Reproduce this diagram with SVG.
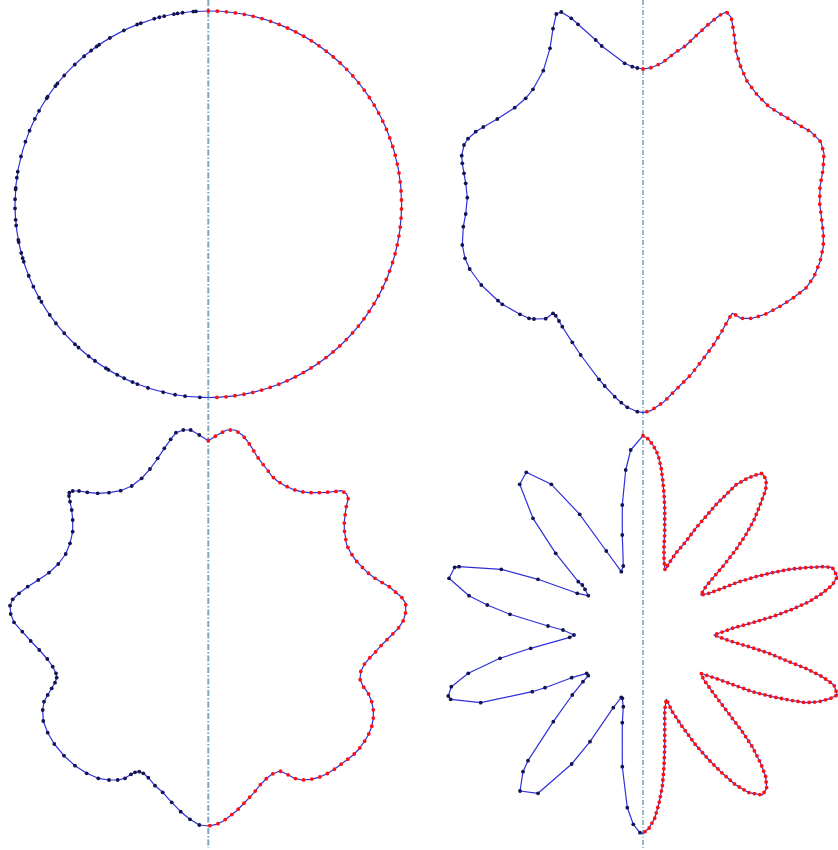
<svg xmlns="http://www.w3.org/2000/svg" xmlns:xlink="http://www.w3.org/1999/xlink" width="838" height="850" viewBox="0 0 838 850">
<style>
.outline{fill:none;stroke:#2f2fdc;stroke-width:1.2;stroke-linejoin:round}
.reddots{fill:none;stroke:#ff1010;stroke-width:3.8;stroke-linecap:round}
.navypts{fill:none;stroke:none;marker-start:url(#nd);marker-mid:url(#nd);marker-end:url(#nd)}
.axisL{stroke:#80a8bc;stroke-width:2;stroke-dasharray:6 2 1.5 2;fill:none}
.axisR{stroke:#2d7196;stroke-width:1;stroke-dasharray:5 2 1 2;fill:none}
</style>
<defs>
<marker id="nd" markerUnits="userSpaceOnUse" viewBox="0 0 5 5" refX="2.5" refY="2.5" markerWidth="5" markerHeight="5"><circle cx="2.5" cy="2.5" r="1.9" fill="#121450"/></marker>
<circle id="cd" cx="208.3" cy="11" r="1.9" fill="#121450"/>
</defs>
<rect width="838" height="850" fill="#ffffff"/>
<g id="axes">
<line class="axisL" x1="208.3" y1="0" x2="208.3" y2="848"/>
<line class="axisR" x1="643" y1="0" x2="643" y2="848"/>
</g>
<g id="circle-panel">
<circle class="outline" cx="208.3" cy="204.3" r="193.3"/>
<path class="reddots" stroke-dasharray="0 9.064" d="M208.3,11 A193.3,193.3 0 0 1 208.3,397.6"/>
<g>
<use xlink:href="#cd" transform="rotate(-3.66 208.3 204.3)"/>
<use xlink:href="#cd" transform="rotate(-4.45 208.3 204.3)"/>
<use xlink:href="#cd" transform="rotate(-7.65 208.3 204.3)"/>
<use xlink:href="#cd" transform="rotate(-9.14 208.3 204.3)"/>
<use xlink:href="#cd" transform="rotate(-10.24 208.3 204.3)"/>
<use xlink:href="#cd" transform="rotate(-13.17 208.3 204.3)"/>
<use xlink:href="#cd" transform="rotate(-14.68 208.3 204.3)"/>
<use xlink:href="#cd" transform="rotate(-16.24 208.3 204.3)"/>
<use xlink:href="#cd" transform="rotate(-20.44 208.3 204.3)"/>
<use xlink:href="#cd" transform="rotate(-21.6 208.3 204.3)"/>
<use xlink:href="#cd" transform="rotate(-25.9 208.3 204.3)"/>
<use xlink:href="#cd" transform="rotate(-30.6 208.3 204.3)"/>
<use xlink:href="#cd" transform="rotate(-34.4 208.3 204.3)"/>
<use xlink:href="#cd" transform="rotate(-35.3 208.3 204.3)"/>
<use xlink:href="#cd" transform="rotate(-37.3 208.3 204.3)"/>
<use xlink:href="#cd" transform="rotate(-40 208.3 204.3)"/>
<use xlink:href="#cd" transform="rotate(-43.7 208.3 204.3)"/>
<use xlink:href="#cd" transform="rotate(-48.2 208.3 204.3)"/>
<use xlink:href="#cd" transform="rotate(-51.3 208.3 204.3)"/>
<use xlink:href="#cd" transform="rotate(-52.3 208.3 204.3)"/>
<use xlink:href="#cd" transform="rotate(-56.2 208.3 204.3)"/>
<use xlink:href="#cd" transform="rotate(-56.7 208.3 204.3)"/>
<use xlink:href="#cd" transform="rotate(-61.1 208.3 204.3)"/>
<use xlink:href="#cd" transform="rotate(-63.8 208.3 204.3)"/>
<use xlink:href="#cd" transform="rotate(-67.6 208.3 204.3)"/>
<use xlink:href="#cd" transform="rotate(-71.1 208.3 204.3)"/>
<use xlink:href="#cd" transform="rotate(-75.7 208.3 204.3)"/>
<use xlink:href="#cd" transform="rotate(-80.3 208.3 204.3)"/>
<use xlink:href="#cd" transform="rotate(-82.1 208.3 204.3)"/>
<use xlink:href="#cd" transform="rotate(-85.1 208.3 204.3)"/>
<use xlink:href="#cd" transform="rotate(-85.6 208.3 204.3)"/>
<use xlink:href="#cd" transform="rotate(-88.5 208.3 204.3)"/>
<use xlink:href="#cd" transform="rotate(-91.2 208.3 204.3)"/>
<use xlink:href="#cd" transform="rotate(-94.6 208.3 204.3)"/>
<use xlink:href="#cd" transform="rotate(-96.3 208.3 204.3)"/>
<use xlink:href="#cd" transform="rotate(-100.6 208.3 204.3)"/>
<use xlink:href="#cd" transform="rotate(-101.3 208.3 204.3)"/>
<use xlink:href="#cd" transform="rotate(-104.6 208.3 204.3)"/>
<use xlink:href="#cd" transform="rotate(-106.2 208.3 204.3)"/>
<use xlink:href="#cd" transform="rotate(-107.3 208.3 204.3)"/>
<use xlink:href="#cd" transform="rotate(-111.7 208.3 204.3)"/>
<use xlink:href="#cd" transform="rotate(-115.2 208.3 204.3)"/>
<use xlink:href="#cd" transform="rotate(-118.9 208.3 204.3)"/>
<use xlink:href="#cd" transform="rotate(-120.3 208.3 204.3)"/>
<use xlink:href="#cd" transform="rotate(-124.9 208.3 204.3)"/>
<use xlink:href="#cd" transform="rotate(-128 208.3 204.3)"/>
<use xlink:href="#cd" transform="rotate(-131.8 208.3 204.3)"/>
<use xlink:href="#cd" transform="rotate(-136.4 208.3 204.3)"/>
<use xlink:href="#cd" transform="rotate(-137.8 208.3 204.3)"/>
<use xlink:href="#cd" transform="rotate(-141.8 208.3 204.3)"/>
<use xlink:href="#cd" transform="rotate(-144.1 208.3 204.3)"/>
<use xlink:href="#cd" transform="rotate(-148 208.3 204.3)"/>
<use xlink:href="#cd" transform="rotate(-148.9 208.3 204.3)"/>
<use xlink:href="#cd" transform="rotate(-151.9 208.3 204.3)"/>
<use xlink:href="#cd" transform="rotate(-154.2 208.3 204.3)"/>
<use xlink:href="#cd" transform="rotate(-156.9 208.3 204.3)"/>
<use xlink:href="#cd" transform="rotate(-158.5 208.3 204.3)"/>
<use xlink:href="#cd" transform="rotate(-161.8 208.3 204.3)"/>
<use xlink:href="#cd" transform="rotate(-166.5 208.3 204.3)"/>
<use xlink:href="#cd" transform="rotate(-170.1 208.3 204.3)"/>
<use xlink:href="#cd" transform="rotate(-173.1 208.3 204.3)"/>
<use xlink:href="#cd" transform="rotate(-177.5 208.3 204.3)"/>
</g>
</g>
<g id="leaf-panel">
<path class="outline" d="M643,69 651.3,67.7 662.3,62.7 675,52.7 685.7,45.7 695,36.7 707.3,25.3 719,15.7 726.3,11.7 731.3,17.7 734,33.3 736.3,52.7 740.7,66.7 747.3,81.7 757.3,95 769,106.7 782.3,115 797.3,124 810.7,131.7 820.7,141.7 824,153.3 823,170 820,186.7 819.7,203.3 821.7,220 823.3,233.3 823.3,246.7 820,261.7 814,276.7 805.7,288.3 794,297.3 780.7,306 765.7,314 752.3,318.3 740.7,318.3 735.7,315 732.3,313.3 729.7,317.3 720.7,333.3 712.3,346.7 702.3,360 690.7,375 677.3,388.3 664,401.7 650.7,410.7 643,412.7 637.3,411.7 627.3,407.3 621.3,402.7 614.7,396.7 604.7,386 599,379.3 580.7,355 572.3,342.3 562.3,326.7 559,321 555.7,315.7 553,313.3 545.7,318.7 534,319 529,318.3 520,314.3 502.3,304.3 498,300.7 481.3,285 469.7,269 465,258.3 462.3,245 463.3,226.7 465.7,214 467.3,197.7 465.7,183.3 464,173.3 462.3,163.3 461.7,155.7 464,145 468,138.7 475.7,131.7 483.3,127 497.3,119 514.7,107.7 525.7,98.3 533,89.3 543.3,70.7 550,48.3 553,28.7 556.3,14 561.3,12 571.3,18.3 578,24.3 595.7,40 601.7,46 624.7,63.3 632.3,66.7 637.3,68 Z"/>
<path class="reddots" stroke-dasharray="0 8" d="M643,69 651.3,67.7 662.3,62.7 675,52.7 685.7,45.7 695,36.7 707.3,25.3 719,15.7 726.3,11.7 731.3,17.7 734,33.3 736.3,52.7 740.7,66.7 747.3,81.7 757.3,95 769,106.7 782.3,115 797.3,124 810.7,131.7 820.7,141.7 824,153.3 823,170 820,186.7 819.7,203.3 821.7,220 823.3,233.3 823.3,246.7 820,261.7 814,276.7 805.7,288.3 794,297.3 780.7,306 765.7,314 752.3,318.3 740.7,318.3 735.7,315 732.3,313.3 729.7,317.3 720.7,333.3 712.3,346.7 702.3,360 690.7,375 677.3,388.3 664,401.7 650.7,410.7 643,412.7"/>
<path class="navypts" d="M637.3,68 632.3,66.7 624.7,63.3 601.7,46 595.7,40 578,24.3 571.3,18.3 561.3,12 556.3,14 553,28.7 550,48.3 543.3,70.7 533,89.3 525.7,98.3 514.7,107.7 497.3,119 483.3,127 475.7,131.7 468,138.7 464,145 461.7,155.7 462.3,163.3 464,173.3 465.7,183.3 467.3,197.7 465.7,214 463.3,226.7 462.3,245 465,258.3 469.7,269 481.3,285 498,300.7 502.3,304.3 520,314.3 529,318.3 534,319 545.7,318.7 553,313.3 555.7,315.7 559,321 562.3,326.7 572.3,342.3 580.7,355 599,379.3 604.7,386 614.7,396.7 621.3,402.7 627.3,407.3 637.3,411.7"/>
</g>
<g id="wavy-panel">
<path class="outline" d="M208.3,440.7 217.3,435 226.7,430 235,430 242.3,435 247.3,441 252.3,448.3 256.7,456 261.7,462.7 266.7,469 271.7,476 277.3,481 285,485.7 292.7,489.3 301,491.7 309.3,492.7 317.3,492.7 325.7,492.3 333.3,491.7 341.7,490.7 346.7,494 348.3,499 346,507.7 344.3,521.7 344.3,530 346.7,545 351,553.3 356,560.7 361.7,566.7 367.7,572.7 375,578.3 382.3,582.7 389.3,586.7 395.7,592.3 401.7,597.3 405.7,603.3 405.7,612.3 403.3,620.7 398.3,628.3 392.7,634 386.7,640 381,645.7 375.7,651.7 369.3,658.3 364.3,664.3 360.7,671.7 360,679.3 363.3,686.7 368.3,693.3 371.7,701.7 373.3,710 373.3,718.3 371.7,726.7 368.3,735 364.3,741.7 359,749 353.3,755 346.7,760 340,765 333.3,770 326,774.3 319,777.3 310.7,779.3 302.3,780 294.3,778.3 286.7,774 280,771 272.3,774 266.7,778.3 260,785 254.3,792.3 247.7,799.3 242.3,805 236.7,810.7 230,816 223.3,821 216.7,824.3 208.3,826 199.3,825 190,819.3 180.7,811.7 171.7,802.3 162.7,792.3 155,785.7 148.3,777.7 143.3,773.3 139.3,771.7 135,772.3 131,774.3 125,778.3 117.7,780 109,780 98.3,778.3 86.7,773.3 75,765.7 64,755.7 54.3,744 47.7,732.7 43.3,721 42.7,710 44,701.7 47.7,695 51.7,688.3 55,682.7 56.7,677.7 56,673.3 52.7,666.7 47.3,659 39.3,650 30.7,641 22.3,631.7 14,622.3 10.7,614 10,605.7 12.7,599.3 19,593.3 27.7,586.7 38.3,580 49,572.7 58.3,564 65.7,554 70,543.3 72.7,531.7 72.7,520 71.7,510 70,501.7 69,496 69.3,492.7 72.7,491 79,491 87.3,492.3 97.7,493.3 109,492.7 120.7,490.7 131.7,486 141.7,478.3 150,469 157.7,458.3 164.3,448.3 170.7,439.3 176,432.7 183.3,430 190.7,430 199.3,435 Z"/>
<path class="reddots" stroke-dasharray="0 8.3" d="M208.3,440.7 217.3,435 226.7,430 235,430 242.3,435 247.3,441 252.3,448.3 256.7,456 261.7,462.7 266.7,469 271.7,476 277.3,481 285,485.7 292.7,489.3 301,491.7 309.3,492.7 317.3,492.7 325.7,492.3 333.3,491.7 341.7,490.7 346.7,494 348.3,499 346,507.7 344.3,521.7 344.3,530 346.7,545 351,553.3 356,560.7 361.7,566.7 367.7,572.7 375,578.3 382.3,582.7 389.3,586.7 395.7,592.3 401.7,597.3 405.7,603.3 405.7,612.3 403.3,620.7 398.3,628.3 392.7,634 386.7,640 381,645.7 375.7,651.7 369.3,658.3 364.3,664.3 360.7,671.7 360,679.3 363.3,686.7 368.3,693.3 371.7,701.7 373.3,710 373.3,718.3 371.7,726.7 368.3,735 364.3,741.7 359,749 353.3,755 346.7,760 340,765 333.3,770 326,774.3 319,777.3 310.7,779.3 302.3,780 294.3,778.3 286.7,774 280,771 272.3,774 266.7,778.3 260,785 254.3,792.3 247.7,799.3 242.3,805 236.7,810.7 230,816 223.3,821 216.7,824.3 208.3,826"/>
<path class="navypts" d="M199.3,435 190.7,430 183.3,430 176,432.7 170.7,439.3 164.3,448.3 157.7,458.3 150,469 141.7,478.3 131.7,486 120.7,490.7 109,492.7 97.7,493.3 87.3,492.3 79,491 72.7,491 69.3,492.7 69,496 70,501.7 71.7,510 72.7,520 72.7,531.7 70,543.3 65.7,554 58.3,564 49,572.7 38.3,580 27.7,586.7 19,593.3 12.7,599.3 10,605.7 10.7,614 14,622.3 22.3,631.7 30.7,641 39.3,650 47.3,659 52.7,666.7 56,673.3 56.7,677.7 55,682.7 51.7,688.3 47.7,695 44,701.7 42.7,710 43.3,721 47.7,732.7 54.3,744 64,755.7 75,765.7 86.7,773.3 98.3,778.3 109,780 117.7,780 125,778.3 131,774.3 135,772.3 139.3,771.7 143.3,773.3 148.3,777.7 155,785.7 162.7,792.3 171.7,802.3 180.7,811.7 190,819.3 199.3,825"/>
</g>
<g id="flower-panel">
<path class="outline" d="M643,435.7 648.3,439 652.3,444.3 656.3,450.7 659,458.3 661.3,469 662.7,480 664,493.3 664.7,506.7 664.7,520 664.7,533.3 664,546.7 664,560 665,570 669,563.3 675.7,553.3 685.7,541.7 695.7,528.3 705.7,516.7 715.7,505 725.7,495 735.7,485 747.3,478.3 755.7,475 762.3,473.3 766.3,480 765.7,490 760.7,503.3 754,520 745.7,535 735.7,550 724,565 714,576.7 705.7,586.7 700.7,595 709,593.3 722.3,588.3 739,581.7 755.7,576.7 772.3,572.7 789,569.3 805.7,567.7 822.3,566.7 832.3,567.3 837.3,576.7 832.3,585 822.3,593.3 809,601.7 792.3,609.3 772.3,616.7 752.3,622.7 732.3,628.3 714,635 729,640.7 749,646.7 769,653.3 789,661.7 805.7,668.3 822.3,676.7 834,685 837.3,695 830.7,698.3 819,701.7 805.7,702.7 789,700 772.3,696.7 752.3,691.7 734,685 715.7,678.3 700.7,673.3 704,680 712.3,691.7 722.3,705 732.3,718.3 742.3,731.7 752.3,746.7 760.7,763.3 765.7,776.7 766.7,788.3 762.3,795 749,792.7 735.7,785 722.3,773.3 709,760 695.7,745 682.3,726.7 672.3,711.7 666.3,699.3 664.7,710 664.7,726.7 664.7,746.7 664,766.7 662.3,786.7 659,803.3 654.7,818.3 649,828.3 643,833.3 640,832.7 633.3,824.3 627.3,807.7 622.3,766.7 622.3,722.7 623.3,706.7 622.3,698.3 621.3,697.3 613.3,707.7 590,741.7 571.7,764 538,793.3 520,791 523,771.7 528,760.7 553.3,721.7 572.3,695 583,681.7 588.3,675.7 586.7,673.3 571.7,677.7 545,687.7 532.3,691.7 480.7,702.7 450.7,699.3 448.3,696 451.3,686.7 468.3,673.3 500,658.3 530.7,648.3 569.7,637.3 574,635 563,630 548,626 510,614.3 487.3,605 469,595.7 449,578.3 454.7,567.3 459,566.7 501.3,569.3 538,579.3 577.3,593.3 588.3,595.7 585,589.3 582.3,585 578.3,581.7 555.7,553.3 533,518.3 519.7,484.3 526.3,472.3 551.3,484.3 579.7,514.3 606.3,551 621.3,571.7 623.3,566 622.3,535 622.3,505 625.7,470 630.7,450 Z"/>
<path class="reddots" stroke-dasharray="0 5.6" d="M643,435.7 648.3,439 652.3,444.3 656.3,450.7 659,458.3 661.3,469 662.7,480 664,493.3 664.7,506.7 664.7,520 664.7,533.3 664,546.7 664,560 665,570 669,563.3 675.7,553.3 685.7,541.7 695.7,528.3 705.7,516.7 715.7,505 725.7,495 735.7,485 747.3,478.3 755.7,475 762.3,473.3 766.3,480 765.7,490 760.7,503.3 754,520 745.7,535 735.7,550 724,565 714,576.7 705.7,586.7 700.7,595 709,593.3 722.3,588.3 739,581.7 755.7,576.7 772.3,572.7 789,569.3 805.7,567.7 822.3,566.7 832.3,567.3 837.3,576.7 832.3,585 822.3,593.3 809,601.7 792.3,609.3 772.3,616.7 752.3,622.7 732.3,628.3 714,635 729,640.7 749,646.7 769,653.3 789,661.7 805.7,668.3 822.3,676.7 834,685 837.3,695 830.7,698.3 819,701.7 805.7,702.7 789,700 772.3,696.7 752.3,691.7 734,685 715.7,678.3 700.7,673.3 704,680 712.3,691.7 722.3,705 732.3,718.3 742.3,731.7 752.3,746.7 760.7,763.3 765.7,776.7 766.7,788.3 762.3,795 749,792.7 735.7,785 722.3,773.3 709,760 695.7,745 682.3,726.7 672.3,711.7 666.3,699.3 664.7,710 664.7,726.7 664.7,746.7 664,766.7 662.3,786.7 659,803.3 654.7,818.3 649,828.3 643,833.3"/>
<path class="navypts" d="M630.7,450 625.7,470 622.3,505 622.3,535 623.3,566 621.3,571.7 606.3,551 579.7,514.3 551.3,484.3 526.3,472.3 519.7,484.3 533,518.3 555.7,553.3 578.3,581.7 582.3,585 585,589.3 588.3,595.7 577.3,593.3 538,579.3 501.3,569.3 459,566.7 454.7,567.3 449,578.3 469,595.7 487.3,605 510,614.3 548,626 563,630 574,635 569.7,637.3 530.7,648.3 500,658.3 468.3,673.3 451.3,686.7 448.3,696 450.7,699.3 480.7,702.7 532.3,691.7 545,687.7 571.7,677.7 586.7,673.3 588.3,675.7 583,681.7 572.3,695 553.3,721.7 528,760.7 523,771.7 520,791 538,793.3 571.7,764 590,741.7 613.3,707.7 621.3,697.3 622.3,698.3 623.3,706.7 622.3,722.7 622.3,766.7 627.3,807.7 633.3,824.3 640,832.7"/>
</g>
</svg>
